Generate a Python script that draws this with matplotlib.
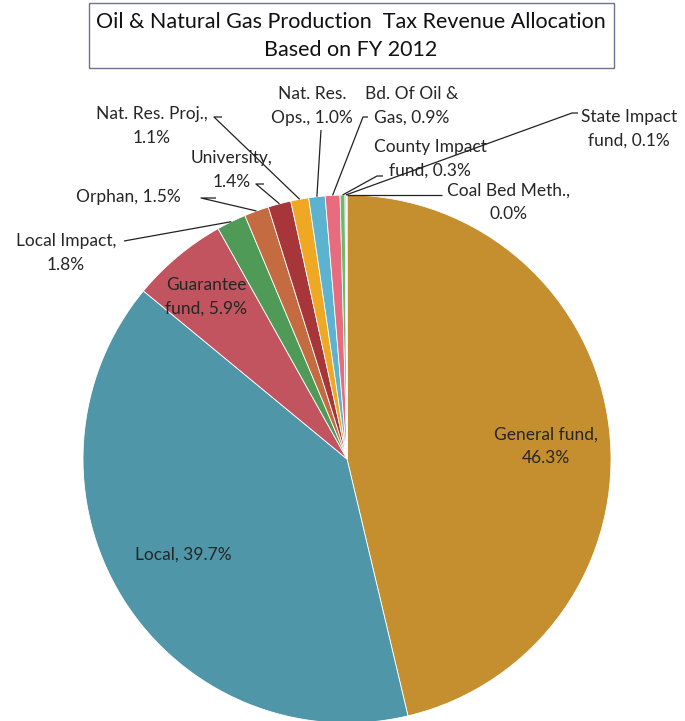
import numpy as np
import matplotlib
matplotlib.use("Agg")
import matplotlib.pyplot as plt
from matplotlib.patches import Rectangle

plt.rcParams['font.family'] = ['Lato', 'DejaVu Sans']

categories = ["General fund", "Local", "Guarantee\nfund", "Local Impact", "Orphan",
              "University", "Nat. Res. Proj.", "Nat. Res.\nOps.", "Bd. Of Oil &\nGas",
              "County Impact\nfund", "State Impact\nfund", "Coal Bed Meth."]
values = [46.3, 39.7, 5.9, 1.8, 1.5, 1.4, 1.1, 1.0, 0.9, 0.3, 0.1, 0.02]
value_labels = ["46.3%", "39.7%", "5.9%", "1.8%", "1.5%", "1.4%", "1.1%", "1.0%",
                "0.9%", "0.3%", "0.1%", "0.0%"]
colors = ["#C58E2E", "#4E96A8", "#C2545F", "#4F9A57", "#C46B42", "#A6363A",
          "#EFA823", "#5CB3D0", "#E86C7E", "#6BBB6B", "#F2A6AE", "#E0602E"]

W, H = 685, 721
fig = plt.figure(figsize=(W / 100, H / 100), dpi=100)
ax = fig.add_axes([0, 0, 1, 1])

def Y(py):
    return H - py

cx, cy, R = 347, Y(459), 264
wedges, _ = ax.pie(values, colors=colors, startangle=90, counterclock=False,
                   center=(cx, cy), radius=R, frame=True,
                   wedgeprops=dict(edgecolor='white', linewidth=0.6))
ax.set_xlim(0, W)
ax.set_ylim(0, H)
ax.set_aspect('equal')
ax.axis('off')

fs = 12.5
ls = 1.55
tcol = '#262626'
# inside labels
inside = {0: (546, 446), 1: (183, 555), 2: (206, 297)}
for i, (px, py) in inside.items():
    name = categories[i]
    if i == 2:
        txt = "Guarantee\nfund, " + value_labels[i]
    elif i == 0:
        txt = name + ",\n" + value_labels[i]
    else:
        txt = name + ", " + value_labels[i]
    ax.text(px, Y(py), txt, ha='center', va='center', fontsize=fs, color=tcol,
            linespacing=ls)

def edge_point(i, rf=1.0):
    w = wedges[i]
    ang = np.deg2rad((w.theta1 + w.theta2) / 2)
    return cx + R * rf * np.cos(ang), cy + R * rf * np.sin(ang)

# outside labels: (slice index, text, text center px, leader-line points px)
outside = [
    (3, "Local Impact,\n1.8%", (66, 253), [(124, 241)]),
    (4, "Orphan, 1.5%", (128, 197), [(201, 198), (216, 198)]),
    (5, "University,\n1.4%", (232, 170), [(256, 184), (264, 184)]),
    (6, "Nat. Res. Proj.,\n1.1%", (152, 126), [(214, 117), (222, 117)]),
    (7, "Nat. Res.\nOps., 1.0%", (312, 106), [(321, 130)]),
    (8, "Bd. Of Oil &\nGas, 0.9%", (412, 106), [(363, 117), (368, 117)]),
    (9, "County Impact\nfund, 0.3%", (430, 159), [(377, 176), (383, 176)]),
    (10, "State Impact\nfund, 0.1%", (629, 129), [(572, 113), (578, 113)]),
    (11, "Coal Bed Meth.,\n0.0%", (509, 202), [(442, 195)]),
]
for i, txt, (tx, ty), pts in outside:
    ex, ey = edge_point(i, 1.0)
    xs = [ex] + [p[0] for p in pts]
    ys = [ey] + [Y(p[1]) for p in pts]
    ax.plot(xs, ys, color='#222222', linewidth=0.9, solid_capstyle='butt')
    ax.text(tx, Y(ty), txt, ha='center', va='center', fontsize=fs, color=tcol,
            linespacing=ls)

# title box
ax.add_patch(Rectangle((89, Y(68)), 525, 65, facecolor='white', edgecolor='#6B7390',
                       linewidth=1.0))
ax.text(351, Y(36), "Oil & Natural Gas Production  Tax Revenue Allocation\nBased on FY 2012",
        ha='center', va='center', fontsize=15.5, color='#111111', linespacing=1.45)

fig.savefig("out.png", dpi=100)
